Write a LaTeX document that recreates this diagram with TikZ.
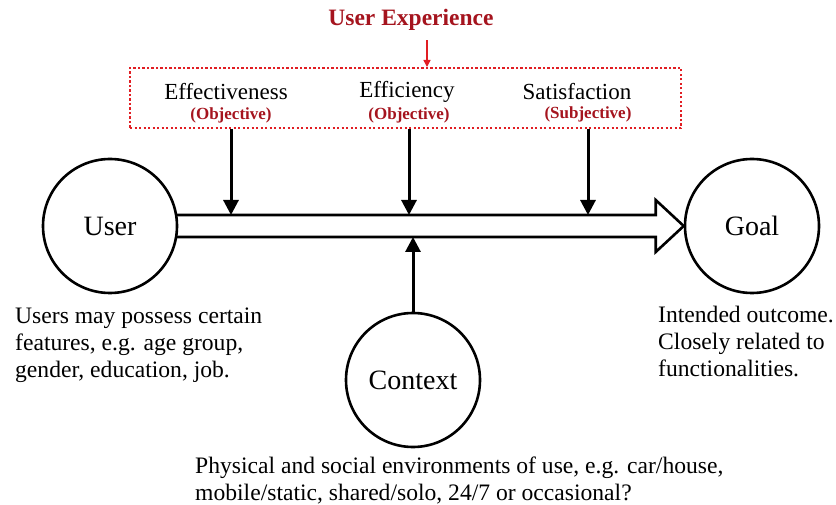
\documentclass[tikz,border=0pt]{standalone}
\usepackage{fontspec}
\setmainfont{Liberation Serif}
\usetikzlibrary{arrows.meta, positioning, calc}
\definecolor{uxred}{RGB}{165,20,30}
\definecolor{boxred}{RGB}{225,30,35}

\begin{document}
\begin{tikzpicture}[x=1pt, y=-1pt,
    actor/.style={circle, draw, line width=2.6pt, minimum size=134pt, inner sep=0pt,
        font=\fontsize{28}{32}\selectfont},
    factor/.style={font=\fontsize{23}{27}\selectfont},
    tag/.style={font=\bfseries\fontsize{17}{20}\selectfont, text=uxred},
    note/.style={font=\fontsize{23.6}{27}\selectfont, align=left, inner sep=0pt, anchor=north west},
    push/.style={line width=3pt, -{Triangle[length=15pt,width=15pt]}},
    shaft/.style={line width=2.6pt, line join=miter}]
    \useasboundingbox (0,0) rectangle (836,505);

    % Actors and goal
    \node[actor] (user) at (110,226) {User};
    \node[actor] (goal) at (752,226) {Goal};
    \node[actor] (context) at (413,380) {Context};

    % Big arrow from user to goal
    \coordinate (shafttop) at ($(user.east)+(-2,-11)$);
    \coordinate (shaftbot) at ($(user.east)+(-2,11)$);
    \draw[shaft] (shafttop) -- ($(goal.west)+(-28,-11)$) -- ($(goal.west)+(-28,-26)$)
        -- (goal.west) -- ($(goal.west)+(-28,26)$) -- ($(goal.west)+(-28,11)$) -- (shaftbot);

    % User experience box
    \node[font=\bfseries\fontsize{23.5}{28}\selectfont, text=uxred] (title) at (411,20) {User Experience};
    \node[draw=boxred, line width=2pt, dash pattern=on 2.2pt off 2.3pt,
        minimum width=551pt, minimum height=60pt] (ux) at (405.5,98) {};
    \coordinate (uxin) at (427,0);
    \draw[boxred, line width=1.5pt, shorten <=6pt, -{Triangle[length=7pt,width=7pt]}] (title.south -| uxin) -- (ux.north -| uxin);

    \node[factor] (eff) at (226,92) {Effectiveness};
    \node[factor] (effi) at (407,92) {Efficiency};
    \node[factor] (sat) at (577,92) {Satisfaction};
    \node[tag] (effobj) at (231,115) {(Objective)};
    \node[tag] (effiobj) at (409,115) {(Objective)};
    \node[tag] (satsub) at (588,114) {(Subjective)};

    % Factors acting on the interaction
    \draw[push] (ux.south -| effobj) -- (effobj |- shafttop);
    \draw[push] (ux.south -| effiobj) -- (effiobj |- shafttop);
    \draw[push] (ux.south -| satsub) -- (satsub |- shafttop);
    \draw[push] (context.north) -- (context.north |- shaftbot);

    % Notes
    \node[note] (usernote) at (15,308) {Users may possess certain\\features, e.g. age group,\\gender, education, job.};
    \node[note] (goalnote) at (658,306) {Intended outcome.\\Closely related to\\functionalities.};
    \node[note] (ctxnote) at (195,457) {Physical and social environments of use, e.g. car/house,\\mobile/static, shared/solo, 24/7 or occasional?};
\end{tikzpicture}
\end{document}
